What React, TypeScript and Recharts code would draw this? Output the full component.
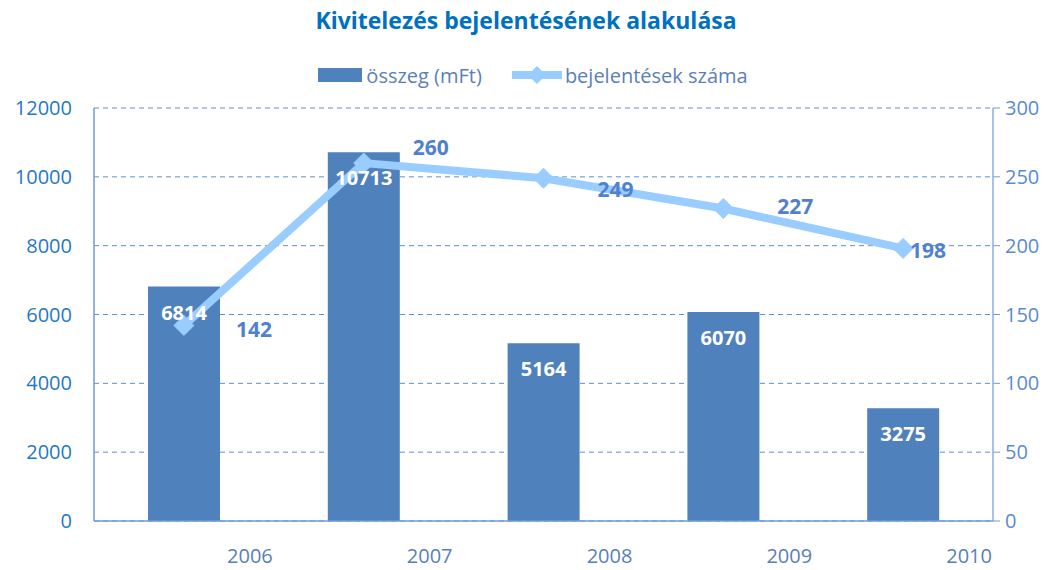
import React from 'react';
import { ComposedChart, Bar, Line, XAxis, YAxis, CartesianGrid, LabelList } from 'recharts';

const years = ['2006', '2007', '2008', '2009', '2010'];
const amounts = [6814, 10713, 5164, 6070, 3275];
const counts = [142, 260, 249, 227, 198];
const leftTicks = [0, 2000, 4000, 6000, 8000, 10000, 12000];
const rightTicks = [0, 50, 100, 150, 200, 250, 300];

const TITLE = 'Kivitelezés bejelentésének alakulása';
const BAR_NAME = 'összeg (mFt)';
const LINE_NAME = 'bejelentések száma';

// label nudges (styling only)
const lineLabelNudge = [
  [70, 3],
  [67, -16],
  [72, 11],
  [72, -2],
  [25, 2],
];

const data = years.map((y, i) => ({ year: y, amount: amounts[i], count: counts[i] }));

const FONT = "'Open Sans', sans-serif";
const BAR_COLOR = '#4F81BD';
const LINE_COLOR = '#99CCFF';
const AXIS_COLOR = '#6F9BD8';

const Diamond = (props: any) => {
  const { cx, cy } = props;
  if (cx == null || cy == null) return null;
  const r = 10;
  return (
    <path
      d={`M${cx},${cy - r} L${cx + r},${cy} L${cx},${cy + r} L${cx - r},${cy} Z`}
      fill={LINE_COLOR}
      stroke={LINE_COLOR}
    />
  );
};

const LineLabel = (props: any) => {
  const { x, y, value, index } = props;
  const [dx, dy] = lineLabelNudge[index] || [60, 0];
  return (
    <text
      x={x + dx}
      y={y + dy}
      textAnchor="middle"
      dominantBaseline="central"
      fill="#4F81D0"
      fontSize={21}
      fontWeight="bold"
      fontFamily={FONT}
    >
      {value}
    </text>
  );
};

const XTick = (props: any) => {
  const { x, y, payload } = props;
  return (
    <text
      x={x + 66}
      y={y + 26}
      textAnchor="middle"
      dominantBaseline="central"
      fill="#5A7FB8"
      fontSize={20}
      fontFamily={FONT}
    >
      {payload.value}
    </text>
  );
};

export default function App() {
  return (
    <div style={{ position: 'absolute', left: 0, top: 0, width: 1052, height: 570, background: '#fff' }}>
      <div
        style={{
          position: 'absolute',
          left: 0,
          top: 4,
          width: 1052,
          textAlign: 'center',
          fontFamily: FONT,
          fontWeight: 'bold',
          fontSize: 23,
          color: '#0070C0',
          lineHeight: '32px',
        }}
      >
        {TITLE}
      </div>
      <div
        style={{
          position: 'absolute',
          left: 0,
          top: 61,
          width: 1052,
          display: 'flex',
          justifyContent: 'center',
          alignItems: 'center',
          fontFamily: FONT,
          fontSize: 20,
          color: '#5A7FB8',
          height: 28,
          paddingLeft: 14,
          boxSizing: 'border-box',
        }}
      >
        <svg width={44} height={16} style={{ marginRight: 4 }}>
          <rect x={0} y={1} width={44} height={14} fill={BAR_COLOR} />
        </svg>
        <span style={{ marginRight: 30 }}>{BAR_NAME}</span>
        <svg width={50} height={20} style={{ marginRight: 3 }}>
          <line x1={0} y1={10} x2={50} y2={10} stroke={LINE_COLOR} strokeWidth={8} strokeLinecap="round" />
          <path d="M25,1 L34,10 L25,19 L16,10 Z" fill={LINE_COLOR} />
        </svg>
        <span>{LINE_NAME}</span>
      </div>
      <ComposedChart
        width={1052}
        height={570}
        data={data}
        margin={{ top: 108, right: 0, bottom: 0, left: 0 }}
        style={{ position: 'absolute', left: 0, top: 0 }}
      >
        <CartesianGrid vertical={false} stroke="#5B8FD8" strokeDasharray="5 4" yAxisId="left" />
        <XAxis
          dataKey="year"
          axisLine={{ stroke: AXIS_COLOR, strokeWidth: 1.5 }}
          tickLine={false}
          tick={<XTick />}
          interval={0}
          height={49}
        />
        <YAxis
          yAxisId="left"
          domain={[0, 12000]}
          ticks={leftTicks}
          width={94}
          axisLine={{ stroke: AXIS_COLOR, strokeWidth: 1.5 }}
          tickLine={false}
          tickSize={0}
          tickMargin={22}
          tick={{ fill: '#1F78C8', fontSize: 20, fontFamily: FONT }}
          interval={0}
        />
        <YAxis
          yAxisId="right"
          orientation="right"
          domain={[0, 300]}
          ticks={rightTicks}
          width={59}
          axisLine={{ stroke: AXIS_COLOR, strokeWidth: 1.2 }}
          tickLine={{ stroke: AXIS_COLOR }}
          tickSize={7}
          tickMargin={5}
          tick={{ fill: '#5A8AD0', fontSize: 20, fontFamily: FONT, textAnchor: 'start' }}
          interval={0}
        />
        <Bar yAxisId="left" dataKey="amount" name={BAR_NAME} fill={BAR_COLOR} barSize={72} isAnimationActive={false}>
          <LabelList
            dataKey="amount"
            position="insideTop"
            offset={19}
            fill="#FFFFFF"
            fontSize={20}
            fontWeight="bold"
            fontFamily={FONT}
          />
        </Bar>
        <Line
          yAxisId="right"
          type="linear"
          dataKey="count"
          name={LINE_NAME}
          stroke={LINE_COLOR}
          strokeWidth={8}
          dot={<Diamond />}
          activeDot={false}
          isAnimationActive={false}
        >
          <LabelList dataKey="count" content={<LineLabel />} />
        </Line>
      </ComposedChart>
    </div>
  );
}
